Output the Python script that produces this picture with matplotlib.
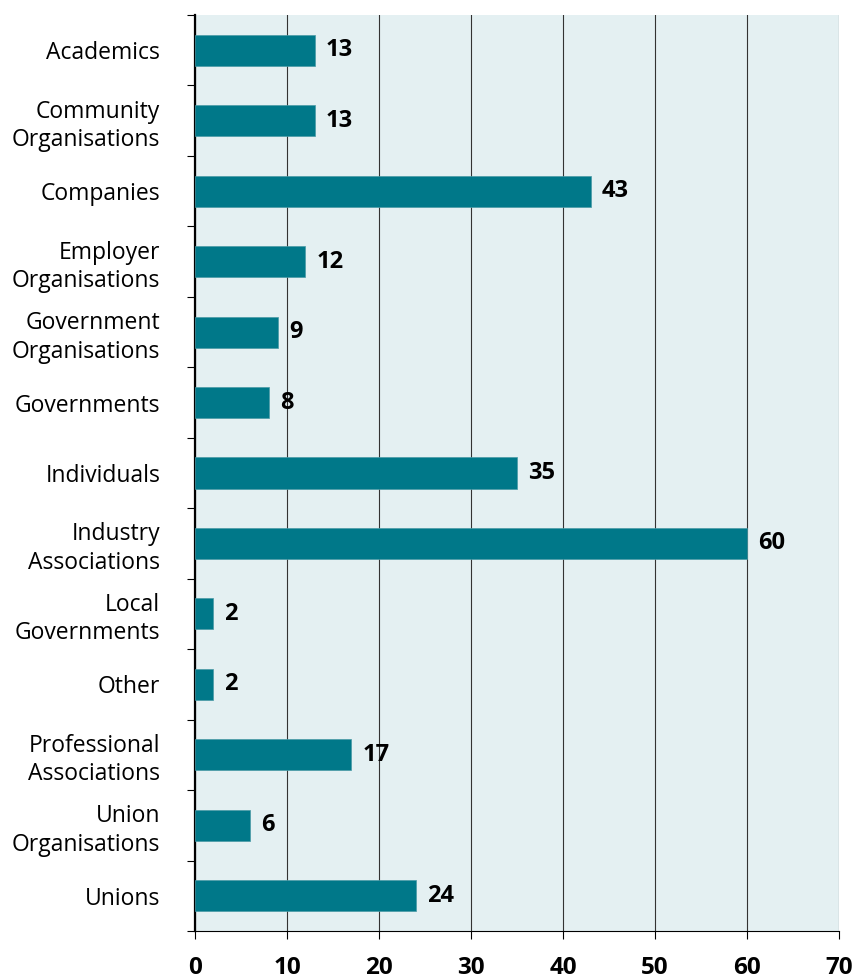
import matplotlib
matplotlib.use("Agg")
import matplotlib.pyplot as plt
import numpy as np

categories = ["Academics", "Community\nOrganisations", "Companies", "Employer\nOrganisations",
              "Government\nOrganisations", "Governments", "Individuals", "Industry\nAssociations",
              "Local\nGovernments", "Other", "Professional\nAssociations", "Union\nOrganisations", "Unions"]
values = [13, 13, 43, 12, 9, 8, 35, 60, 2, 2, 17, 6, 24]
xticks = [0, 10, 20, 30, 40, 50, 60, 70]

plt.rcParams['font.family'] = ['Open Sans', 'DejaVu Sans']

fig = plt.figure(figsize=(8.57, 9.8), dpi=100)
ax = fig.add_axes([195/857, 1-931/980, (839-195)/857, (931-15)/980])
ax.set_facecolor('#e4f0f2')

n = len(categories)
y = np.arange(n)
ax.barh(y, values, height=0.44, color='#007889', edgecolor='#4a9aa6', linewidth=0.5, zorder=3)
for yi, v in zip(y, values):
    ax.text(v + 1.2, yi, str(v), va='center', ha='left', fontsize=17, fontweight='bold', color='black', zorder=4)

ax.set_ylim(n - 0.5, -0.5)
ax.set_xlim(0, 70)
ax.set_xticks(xticks)
ax.set_xticklabels([str(t) for t in xticks], fontsize=17.5, fontweight='bold')
ax.xaxis.grid(True, color='#333333', linewidth=0.8, zorder=1)
ax.tick_params(axis='x', length=6, width=0.8, direction='out', pad=12, colors='black')

ax.set_yticks(y)
ax.set_yticklabels(categories, fontsize=16.5, linespacing=1.25)
ax.tick_params(axis='y', which='major', length=0, pad=25)
ax.set_yticks(np.arange(n + 1) - 0.5, minor=True)
ax.tick_params(axis='y', which='minor', length=6, width=0.8, direction='out', colors='black')

ax.spines['top'].set_visible(False)
ax.spines['right'].set_visible(False)
ax.spines['left'].set_linewidth(1.6)
ax.spines['bottom'].set_linewidth(0.8)
ax.set_axisbelow(True)

fig.savefig('out.png', dpi=100, facecolor='white')
